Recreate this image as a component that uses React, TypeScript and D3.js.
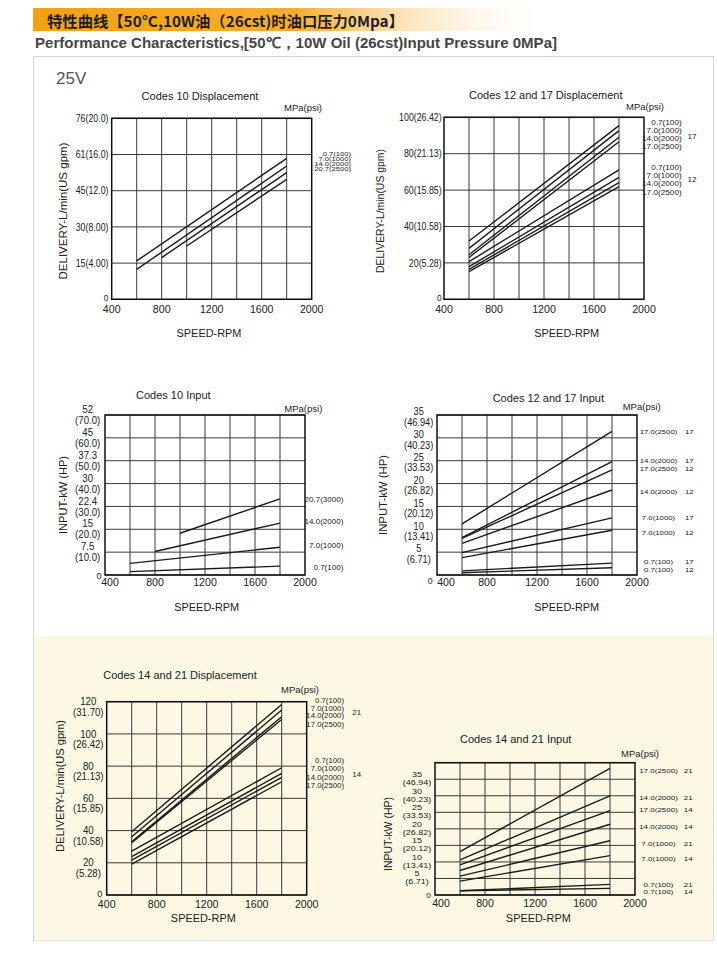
import React from "react";
import * as d3 from "d3";

const SANS = "'Liberation Sans', Arial, Helvetica, sans-serif";
const CJK = "'Noto Sans CJK SC', 'Noto Sans', sans-serif";

// ---------------- shared axis data ----------------
const speedTicks = [400, 800, 1200, 1600, 2000];
const speedGrid = [600, 800, 1000, 1200, 1400, 1600, 1800];
const speedDomain = [400, 2000];

// ---------------- Codes 10 Displacement ----------------
const c10dTicks = [0, 15, 30, 45, 61, 76];
const c10dTickLabels = ["0", "15(4.00)", "30(8.00)", "45(12.0)", "61(16.0)", "76(20.0)"];
const c10dPressures = ["0.7(100)", "7.0(1000)", "14.0(2000)", "20.7(2500)"];
const c10dFrom = [600, 600, 800, 1000];
const c10dTo = [1800, 1800, 1800, 1800];
const c10dStart = [15.9, 12.4, 17.3, 22.1];
const c10dEnd = [59.3, 55.9, 53.0, 50.0];

// ---------------- Codes 12 and 17 Displacement ----------------
const c1217dTicks = [0, 20, 40, 60, 80, 100];
const c1217dTickLabels = ["0", "20(5.28)", "40(10.58)", "60(15.85)", "80(21.13)", "100(26.42)"];
const c1217dPressures = ["0.7(100)", "7.0(1000)", "14.0(2000)", "17.0(2500)", "0.7(100)", "7.0(1000)", "14.0(2000)", "17.0(2500)"];
const c1217dCodes = ["17", "12"];
const c1217dFrom = [600, 600, 600, 600, 600, 600, 600, 600];
const c1217dTo = [1800, 1800, 1800, 1800, 1800, 1800, 1800, 1800];
const c1217dStart = [32.0, 28.0, 24.5, 23.0, 20.7, 17.9, 16.5, 15.2];
const c1217dEnd = [95.4, 92.7, 89.0, 86.6, 71.1, 67.0, 64.1, 61.9];

// ---------------- Codes 10 Input ----------------
const c10iTicks = [0, 7.5, 15, 22.4, 30, 37.3, 45, 52];
const c10iTickKw = ["0", "7.5", "15", "22.4", "30", "37.3", "45", "52"];
const c10iTickHp = ["", "(10.0)", "(20.0)", "(30.0)", "(40.0)", "(50.0)", "(60.0)", "(70.0)"];
const c10iPressures = ["20.7(3000)", "14.0(2000)", "7.0(1000)", "0.7(100)"];
const c10iFrom = [1000, 800, 600, 600];
const c10iTo = [1800, 1800, 1800, 1800];
const c10iStart = [13.7, 7.7, 3.8, 1.1];
const c10iEnd = [24.9, 17.0, 9.1, 2.9];

// ---------------- Codes 12 and 17 Input ----------------
const c1217iTicks = [0, 5, 10, 15, 20, 25, 30, 35];
const c1217iTickKw = ["0", "5", "10", "15", "20", "25", "30", "35"];
const c1217iTickHp = ["", "(6.71)", "(13.41)", "(20.12)", "(26.82)", "(33.53)", "(40.23)", "(46.94)"];
const c1217iPressures = ["17.0(2500)", "14.0(2000)", "17.0(2500)", "14.0(2000)", "7.0(1000)", "7.0(1000)", "0.7(100)", "0.7(100)"];
const c1217iCodes = ["17", "17", "12", "12", "17", "12", "17", "12"];
const c1217iFrom = [600, 600, 600, 600, 600, 600, 600, 600];
const c1217iTo = [1800, 1800, 1800, 1800, 1800, 1800, 1800, 1800];
const c1217iStart = [11.2, 8.2, 8.0, 6.9, 4.9, 3.8, 0.9, 0.5];
const c1217iEnd = [31.4, 24.8, 23.0, 18.6, 12.5, 9.8, 2.6, 1.6];

// ---------------- Codes 14 and 21 Displacement ----------------
const c1421dTicks = [0, 20, 40, 60, 80, 100, 120];
const c1421dTickMain = ["0", "20", "40", "60", "80", "100", "120"];
const c1421dTickGpm = ["", "(5.28)", "(10.58)", "(15.85)", "(21.13)", "(26.42)", "(31.70)"];
const c1421dPressures = ["0.7(100)", "7.0(1000)", "14.0(2000)", "17.0(2500)", "0.7(100)", "7.0(1000)", "14.0(2000)", "17.0(2500)"];
const c1421dCodes = ["21", "14"];
const c1421dFrom = [600, 600, 600, 600, 600, 600, 600, 600];
const c1421dTo = [1800, 1800, 1800, 1800, 1800, 1800, 1800, 1800];
const c1421dStart = [39.3, 36.2, 33.1, 32.5, 27.3, 23.8, 21.7, 19.2];
const c1421dEnd = [118.3, 114.8, 110.7, 109.0, 79.0, 75.5, 73.0, 70.3];

// ---------------- Codes 14 and 21 Input ----------------
const c1421iTicks = [0, 5, 10, 15, 20, 25, 30, 35, 40];
const c1421iTickKw = ["0", "5", "10", "15", "20", "25", "30", "35", ""];
const c1421iTickHp = ["", "(6.71)", "(13.41)", "(20.12)", "(26.82)", "(33.53)", "(40.23)", "(46.94)", ""];
const c1421iPressures = ["17.0(2500)", "14.0(2000)", "17.0(2500)", "14.0(2000)", "7.0(1000)", "7.0(1000)", "0.7(100)", "0.7(100)"];
const c1421iCodes = ["21", "21", "14", "14", "21", "14", "21", "14"];
const c1421iFrom = [600, 600, 600, 600, 600, 600, 600, 600];
const c1421iTo = [1800, 1800, 1800, 1800, 1800, 1800, 1800, 1800];
const c1421iStart = [13.1, 10.6, 9.1, 7.4, 5.7, 4.2, 1.3, 1.3];
const c1421iEnd = [38.3, 30.0, 25.5, 21.4, 16.4, 11.9, 3.2, 2.0];

type TP = {
  x: number; y: number; size: number; anchor?: "start" | "middle" | "end";
  sx?: number; sy?: number; fill?: string; weight?: string; family?: string; children: React.ReactNode;
};
function T({ x, y, size, anchor = "middle", sx = 1, sy = 1, fill = "#222", weight, family = SANS, children }: TP) {
  return (
    <text
      transform={`translate(${x},${y}) scale(${sx},${sy})`}
      textAnchor={anchor}
      dominantBaseline="central"
      fontFamily={family}
      fontSize={size}
      fontWeight={weight}
      fill={fill}
    >
      {children}
    </text>
  );
}

type Spec = {
  title: string; titleX: number; titleY: number;
  mpaX: number; mpaY: number;
  left: number; right: number; top: number; bottom: number;
  ticks: number[]; tickL1: string[]; tickL2?: string[];
  tickRight: number; l1dy: number; l2dy: number; tickFont: number; tickSx: number; tickSy: number; zeroDy: number;
  from: number[]; to: number[]; v0: number[]; v1: number[];
  legend: string[]; legendY: number[]; legendX: number; legendAnchor: "end" | "middle"; legendFont: number; legendSy: number;
  codes: string[]; codeY: number[]; codeX: number;
  yLabel: string; yLabelX: number; yLabelY: number; yLabelLen: number;
  xLabelX: number; xLabelY: number; xTickY: number; firstShift: number;
};

function Chart({ s }: { s: Spec }) {
  const x = d3.scaleLinear().domain(speedDomain).range([s.left, s.right]);
  const n = s.ticks.length - 1;
  const y = d3
    .scaleLinear()
    .domain(s.ticks)
    .range(s.ticks.map((_, i) => s.bottom - (i * (s.bottom - s.top)) / n));
  const line = d3
    .line<[number, number]>()
    .x((d) => x(d[0]))
    .y((d) => y(d[1]));
  const series = s.v0.map(
    (v, i) =>
      [
        [s.from[i], v],
        [s.to[i], s.v1[i]],
      ] as [number, number][]
  );
  const twoLine = !!s.tickL2;
  const hpCenter = s.tickRight - 14;
  return (
    <g>
      <T x={s.titleX} y={s.titleY} size={11}>{s.title}</T>
      <T x={s.mpaX} y={s.mpaY} size={9.5}>MPa(psi)</T>
      {speedGrid.map((g) => (
        <line key={"v" + g} x1={x(g)} x2={x(g)} y1={s.top} y2={s.bottom} stroke="#3a3a3a" strokeWidth={1} />
      ))}
      {s.ticks.map((t) => (
        <line key={"h" + t} x1={s.left} x2={s.right} y1={y(t)} y2={y(t)} stroke="#3a3a3a" strokeWidth={1} />
      ))}
      <rect x={s.left} y={s.top} width={s.right - s.left} height={s.bottom - s.top} fill="none" stroke="#111" strokeWidth={1.5} />
      {series.map((d, i) => (
        <path key={"s" + i} d={line(d) || ""} fill="none" stroke="#1a1a1a" strokeWidth={1.4} />
      ))}
      {s.ticks.map((t, i) => {
        if (i === 0) {
          return (
            <T key={"yt" + i} x={s.tickRight} y={y(t) + s.zeroDy} size={s.tickFont * 0.95} anchor="end" sx={s.tickSx} sy={s.tickSy}>
              {s.tickL1[i]}
            </T>
          );
        }
        if (!twoLine) {
          return (
            <T key={"yt" + i} x={s.tickRight} y={y(t)} size={s.tickFont} anchor="end" sx={s.tickSx} sy={s.tickSy}>
              {s.tickL1[i]}
            </T>
          );
        }
        return (
          <g key={"yt" + i}>
            <T x={hpCenter} y={y(t) + s.l1dy} size={s.tickFont} sx={s.tickSx} sy={s.tickSy}>
              {s.tickL1[i]}
            </T>
            <T x={hpCenter} y={y(t) + s.l2dy} size={s.tickFont} sx={s.tickSx} sy={s.tickSy}>
              {s.tickL2![i]}
            </T>
          </g>
        );
      })}
      {speedTicks.map((t, i) => (
        <T key={"xt" + t} x={x(t) + (i === 0 ? s.firstShift : 0)} y={s.xTickY} size={11.2} sx={0.95}>
          {t}
        </T>
      ))}
      {s.legend.map((l, i) => (
        <T key={"lg" + i} x={s.legendX} y={s.legendY[i]} size={s.legendFont} anchor={s.legendAnchor} sy={s.legendSy}>
          {l}
        </T>
      ))}
      {s.codes.map((c, i) => (
        <T key={"cd" + i} x={s.codeX} y={s.codeY[i]} size={s.legendFont} sy={s.legendSy}>
          {c}
        </T>
      ))}
      <text
        transform={`translate(${s.yLabelX},${s.yLabelY}) rotate(-90)`}
        textAnchor="middle"
        dominantBaseline="central"
        fontFamily={SANS}
        fontSize={11.5}
        fill="#222"
        textLength={s.yLabelLen}
        lengthAdjust="spacingAndGlyphs"
      >
        {s.yLabel}
      </text>
      <T x={s.xLabelX} y={s.xLabelY} size={11.5} sx={0.95}>SPEED-RPM</T>
    </g>
  );
}

const DISP = "DELIVERY-L/min(US gpm)";
const INPUT = "INPUT-kW (HP)";

const specs: Spec[] = [
  {
    title: "Codes 10 Displacement", titleX: 200, titleY: 95.7, mpaX: 303, mpaY: 107.7,
    left: 111.7, right: 311.7, top: 118.3, bottom: 299.3,
    ticks: c10dTicks, tickL1: c10dTickLabels, tickRight: 108.5, l1dy: 0, l2dy: 0, tickFont: 10.5, tickSx: 0.84, tickSy: 1, zeroDy: -2,
    from: c10dFrom, to: c10dTo, v0: c10dStart, v1: c10dEnd,
    legend: c10dPressures, legendY: [154.3, 159.2, 164.2, 169.2], legendX: 351, legendAnchor: "end", legendFont: 7.6, legendSy: 0.66,
    codes: [], codeY: [], codeX: 0,
    yLabel: DISP, yLabelX: 63.3, yLabelY: 211, yLabelLen: 137,
    xLabelX: 209, xLabelY: 333.3, xTickY: 308.5, firstShift: 0,
  },
  {
    title: "Codes 12 and 17 Displacement", titleX: 545.7, titleY: 95, mpaX: 645, mpaY: 106.7,
    left: 444, right: 644, top: 117.3, bottom: 299.3,
    ticks: c1217dTicks, tickL1: c1217dTickLabels, tickRight: 441.7, l1dy: 0, l2dy: 0, tickFont: 10.5, tickSx: 0.84, tickSy: 1, zeroDy: -2,
    from: c1217dFrom, to: c1217dTo, v0: c1217dStart, v1: c1217dEnd,
    legend: c1217dPressures, legendY: [122.7, 131, 139, 147, 167.3, 175.7, 183.7, 192.3], legendX: 681.7, legendAnchor: "end", legendFont: 8.2, legendSy: 0.9,
    codes: c1217dCodes, codeY: [136.7, 179.7], codeX: 692,
    yLabel: DISP, yLabelX: 380, yLabelY: 211, yLabelLen: 124,
    xLabelX: 566.7, xLabelY: 333.3, xTickY: 308.5, firstShift: 0,
  },
  {
    title: "Codes 10 Input", titleX: 173.3, titleY: 395, mpaX: 303.3, mpaY: 408.3,
    left: 105, right: 305, top: 415, bottom: 575,
    ticks: c10iTicks, tickL1: c10iTickKw, tickL2: c10iTickHp, tickRight: 101.7, l1dy: -5.5, l2dy: 5.5, tickFont: 10.5, tickSx: 0.92, tickSy: 1, zeroDy: 0,
    from: c10iFrom, to: c10iTo, v0: c10iStart, v1: c10iEnd,
    legend: c10iPressures, legendY: [499.3, 521.7, 545, 567.7], legendX: 343.3, legendAnchor: "end", legendFont: 8, legendSy: 1,
    codes: [], codeY: [], codeX: 0,
    yLabel: INPUT, yLabelX: 63.3, yLabelY: 495, yLabelLen: 78,
    xLabelX: 206.7, xLabelY: 606.7, xTickY: 582.3, firstShift: 5,
  },
  {
    title: "Codes 12 and 17 Input", titleX: 548.3, titleY: 398.3, mpaX: 641.7, mpaY: 406.7,
    left: 437, right: 637, top: 415, bottom: 575,
    ticks: c1217iTicks, tickL1: c1217iTickKw, tickL2: c1217iTickHp, tickRight: 432.7, l1dy: -3.5, l2dy: 7, tickFont: 10.5, tickSx: 0.88, tickSy: 1, zeroDy: 5,
    from: c1217iFrom, to: c1217iTo, v0: c1217iStart, v1: c1217iEnd,
    legend: c1217iPressures, legendY: [431.7, 460.7, 469.3, 491.7, 517.7, 533.3, 562.2, 569.8], legendX: 658.5, legendAnchor: "middle", legendFont: 7.8, legendSy: 0.74,
    codes: c1217iCodes, codeY: [431.7, 460.7, 469.3, 491.7, 517.7, 533.3, 562.2, 569.8], codeX: 689.3,
    yLabel: INPUT, yLabelX: 383.3, yLabelY: 495, yLabelLen: 80,
    xLabelX: 566.7, xLabelY: 606.7, xTickY: 581.7, firstShift: 9,
  },
  {
    title: "Codes 14 and 21 Displacement", titleX: 180, titleY: 675, mpaX: 300, mpaY: 689.3,
    left: 106.7, right: 306.7, top: 701.7, bottom: 895,
    ticks: c1421dTicks, tickL1: c1421dTickMain, tickL2: c1421dTickGpm, tickRight: 102.3, l1dy: 0, l2dy: 10.5, tickFont: 10.5, tickSx: 0.92, tickSy: 1, zeroDy: -1.5,
    from: c1421dFrom, to: c1421dTo, v0: c1421dStart, v1: c1421dEnd,
    legend: c1421dPressures, legendY: [700.7, 708.3, 716, 724.3, 761, 769, 777.3, 785.7], legendX: 344, legendAnchor: "end", legendFont: 7.8, legendSy: 0.85,
    codes: c1421dCodes, codeY: [712.7, 774.3], codeX: 356.7,
    yLabel: DISP, yLabelX: 60, yLabelY: 786, yLabelLen: 132,
    xLabelX: 203.3, xLabelY: 918.3, xTickY: 903.8, firstShift: 0,
  },
  {
    title: "Codes 14 and 21 Input", titleX: 515.7, titleY: 739.3, mpaX: 640, mpaY: 753.3,
    left: 435, right: 635, top: 762.7, bottom: 895,
    ticks: c1421iTicks, tickL1: c1421iTickKw, tickL2: c1421iTickHp, tickRight: 431, l1dy: -4.8, l2dy: 3, tickFont: 9.5, tickSx: 0.95, tickSy: 0.85, zeroDy: 1,
    from: c1421iFrom, to: c1421iTo, v0: c1421iStart, v1: c1421iEnd,
    legend: c1421iPressures, legendY: [770.7, 797.7, 810, 827.3, 844, 859.3, 885.3, 891.9], legendX: 658.5, legendAnchor: "middle", legendFont: 8, legendSy: 0.72,
    codes: c1421iCodes, codeY: [770.7, 797.7, 810, 827.3, 844, 859.3, 885.3, 891.9], codeX: 688.3,
    yLabel: INPUT, yLabelX: 388.3, yLabelY: 834, yLabelLen: 74,
    xLabelX: 538.3, xLabelY: 918.3, xTickY: 902.5, firstShift: 6,
  },
];

export default function App() {
  return (
    <svg width={717} height={955} style={{ position: "absolute", left: 0, top: 0, background: "#fff" }}>
      <defs>
        <linearGradient id="hdr" x1="0" x2="1" y1="0" y2="0">
          <stop offset="0" stopColor="#f4a10f" />
          <stop offset="0.5" stopColor="#f6ad2e" />
          <stop offset="1" stopColor="#ffffff" stopOpacity="0" />
        </linearGradient>
      </defs>
      <rect x={0} y={0} width={717} height={955} fill="#fff" />
      <rect x={33} y={8} width={525} height={23} fill="url(#hdr)" />
      <text x={47} y={20} dominantBaseline="central" fontFamily={CJK} fontWeight="bold" fontSize={15} fill="#1e1e1e" textLength={357} lengthAdjust="spacingAndGlyphs">
        特性曲线【50°C,10W油（26cst)时油口压力0Mpa】
      </text>
      <text x={35} y={42} dominantBaseline="central" fontFamily={SANS} fontWeight="bold" fontSize={15} fill="#454545" textLength={522} lengthAdjust="spacingAndGlyphs">
        Performance Characteristics,[50℃，10W Oil (26cst)Input Pressure 0MPa]
      </text>
      <rect x={33.5} y={56.5} width={680} height={884} fill="#fff" stroke="#d4d4d4" strokeWidth={1} />
      <rect x={34} y={636} width={679} height={304.5} fill="#fcf8e3" />
      <T x={56} y={78} size={17} anchor="start" fill="#555">25V</T>
      {specs.map((s, i) => (
        <Chart key={i} s={s} />
      ))}
    </svg>
  );
}
